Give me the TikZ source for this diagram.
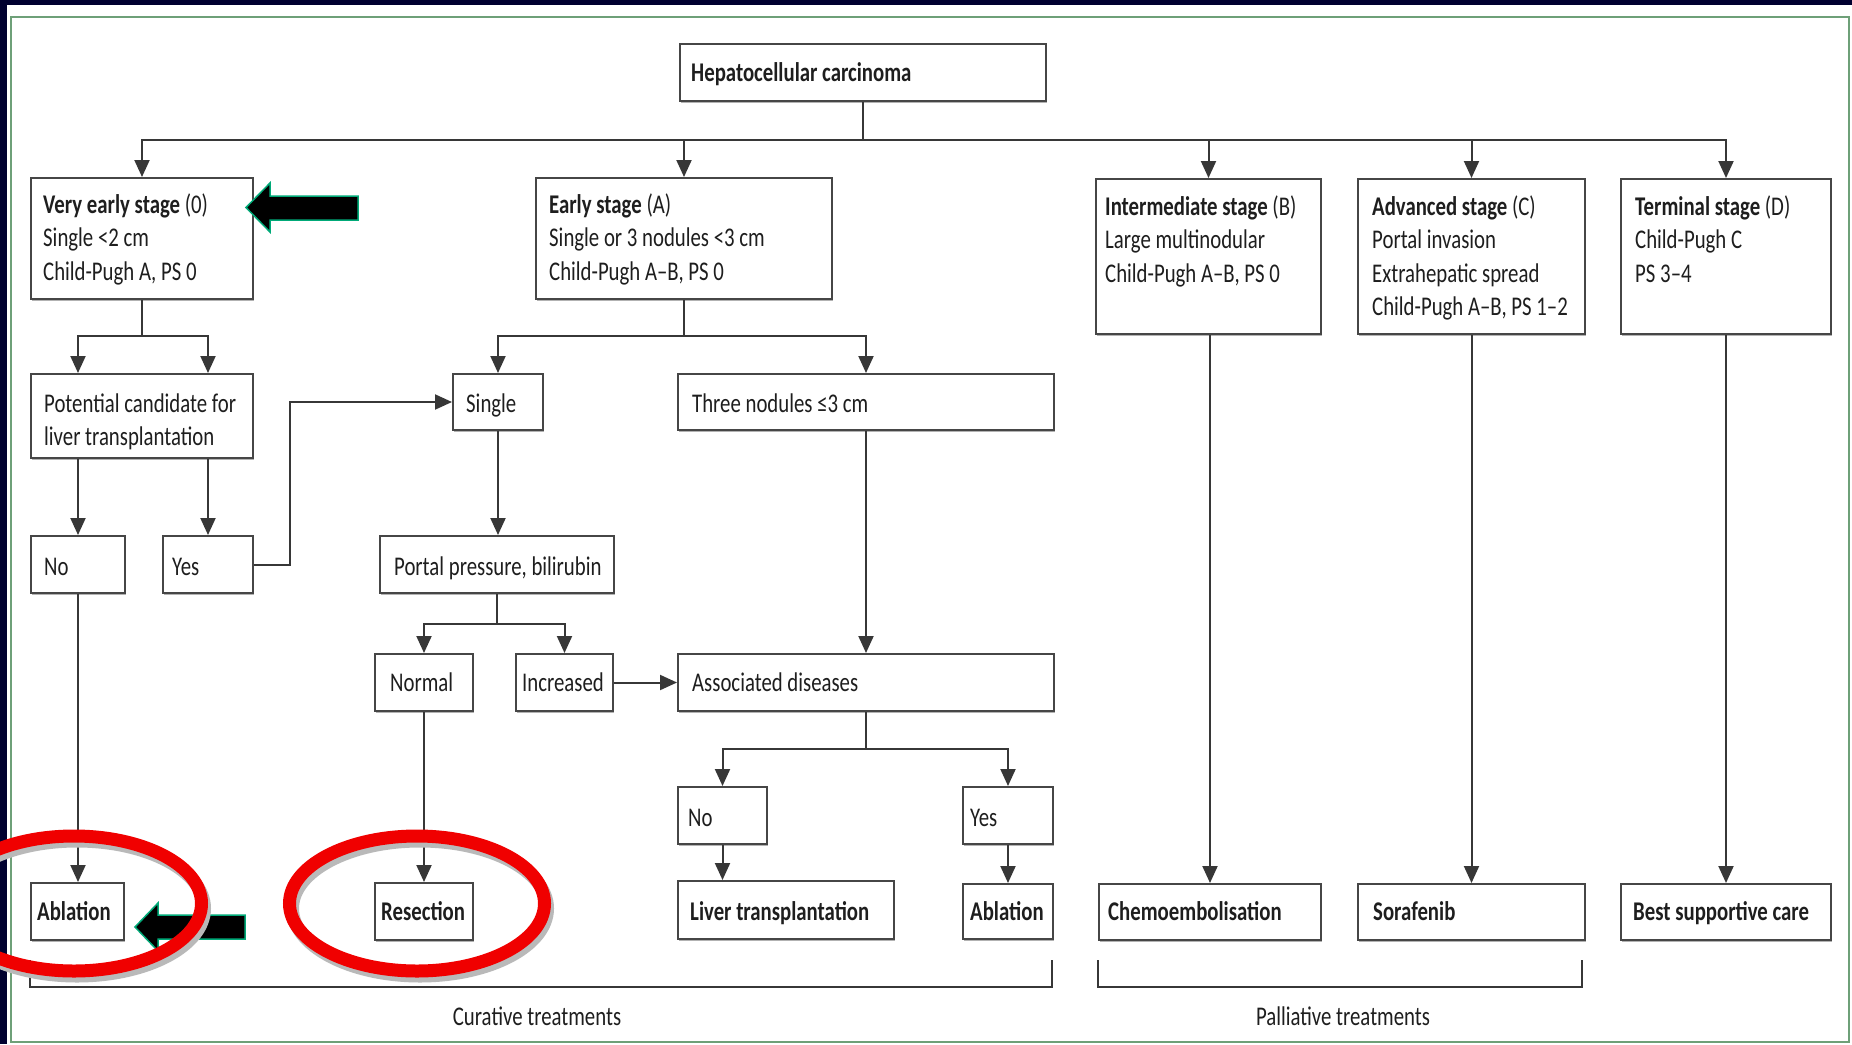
\documentclass[tikz,border=0pt]{standalone}
\usepackage{fontspec}
\setmainfont[FakeStretch=0.77]{Carlito}
\usetikzlibrary{arrows.meta,shadows,calc}
\definecolor{navy}{RGB}{0,0,48}
\definecolor{panelgreen}{RGB}{110,160,120}
\definecolor{boxc}{RGB}{70,70,70}
\definecolor{linec}{RGB}{55,55,55}
\definecolor{txtc}{RGB}{30,30,30}
\definecolor{ringred}{RGB}{240,0,0}
\definecolor{arrowgreen}{RGB}{0,170,120}
\tikzset{
  box/.style={draw=boxc, fill=white, line width=2pt, inner sep=0pt, anchor=north west, rectangle,
    drop shadow={shadow xshift=1pt, shadow yshift=-2pt, fill=black, opacity=0.3}},
  txt/.style={inner sep=0pt, anchor=north west, align=left, text=txtc, font=\fontsize{27}{33.5}\selectfont},
  conn/.style={draw=linec, line width=2pt},
  arr/.style={conn, -{Triangle[width=15pt,length=17pt]}},
  blockarrow/.style={fill=black, draw=arrowgreen, line width=1.5pt},
  ring/.style={draw=ringred, line width=13pt},
  ringshadow/.style={draw=gray!55, line width=13pt},
}
\newcommand\mybox[5]{\pgfmathsetmacro\mbw{#4-#2}\pgfmathsetmacro\mbh{#5-#3}%
  \node[box, minimum width=\mbw pt, minimum height=\mbh pt] (#1) at (#2,#3) {};}
\newcommand\mytext[4]{\node[txt] (#1) at (#2,{#3-24}) {\rule{0pt}{24pt}#4};}
\begin{document}
\begin{tikzpicture}[x=1pt,y=-1pt]
\clip (0,0) rectangle (1852,1044);
\fill[navy] (0,0) rectangle (1852,1044);
\fill[white] (7,5) rectangle (1852,1044);
\draw[panelgreen, line width=1.5pt] (11,17) rectangle (1849,1042);

% boxes
\mybox{hcc}{679}{43}{1045}{100}
\mybox{ve}{30}{177}{252}{298}
\mybox{early}{535}{177}{831}{298}
\mybox{inter}{1095}{178}{1320}{333}
\mybox{adv}{1357}{178}{1584}{333}
\mybox{term}{1620}{178}{1830}{333}
\mybox{pot}{30}{373}{252}{457}
\mybox{single}{452}{373}{542}{429}
\mybox{three}{677}{373}{1053}{429}
\mybox{no}{30}{535}{124}{592}
\mybox{yes}{162}{535}{252}{592}
\mybox{portal}{379}{535}{613}{592}
\mybox{normal}{374}{653}{472}{710}
\mybox{incr}{515}{653}{612}{710}
\mybox{assoc}{677}{653}{1053}{710}
\mybox{noB}{677}{786}{766}{843}
\mybox{yesB}{962}{786}{1052}{843}
\mybox{liver}{677}{880}{893}{938}
\mybox{ablB}{962}{883}{1052}{938}
\mybox{ablA}{30}{882}{123}{939}
\mybox{res}{374}{882}{472}{939}
\mybox{chemo}{1098}{883}{1320}{939}
\mybox{sora}{1357}{883}{1584}{939}
\mybox{bsc}{1620}{883}{1830}{939}

% texts
\mytext{hcc-t}{691}{81}{\textbf{Hepatocellular carcinoma}}
\mytext{ve-t}{43}{213}{\textbf{Very early stage} (0)\\Single <2 cm\\Child-Pugh A, PS 0}
\mytext{early-t}{549}{213}{\textbf{Early stage} (A)\\Single or 3 nodules <3 cm\\Child-Pugh A–B, PS 0}
\mytext{inter-t}{1105}{215}{\textbf{Intermediate stage} (B)\\Large multinodular\\Child-Pugh A–B, PS 0}
\mytext{adv-t}{1372}{215}{\textbf{Advanced stage} (C)\\Portal invasion\\Extrahepatic spread\\Child-Pugh A–B, PS 1–2}
\mytext{term-t}{1635}{215}{\textbf{Terminal stage} (D)\\Child-Pugh C\\PS 3–4}
\mytext{pot-t}{44}{412}{Potential candidate for\\liver transplantation}
\mytext{single-t}{466}{412}{Single}
\mytext{three-t}{692}{412}{Three nodules ≤3 cm}
\mytext{no-t}{44}{575}{No}
\mytext{yes-t}{172}{575}{Yes}
\mytext{portal-t}{394}{575}{Portal pressure, bilirubin}
\mytext{normal-t}{390}{691}{Normal}
\mytext{incr-t}{522}{691}{Increased}
\mytext{assoc-t}{692}{691}{Associated diseases}
\mytext{noB-t}{688}{826}{No}
\mytext{yesB-t}{970}{826}{Yes}
\mytext{liver-t}{690}{920}{\textbf{Liver transplantation}}
\mytext{ablB-t}{970}{920}{\textbf{Ablation}}
\mytext{ablA-t}{37}{920}{\textbf{Ablation}}
\mytext{res-t}{381}{920}{\textbf{Resection}}
\mytext{chemo-t}{1108}{920}{\textbf{Chemoembolisation}}
\mytext{sora-t}{1373}{920}{\textbf{Sorafenib}}
\mytext{bsc-t}{1633}{920}{\textbf{Best supportive care}}

% connectors
\draw[conn] (hcc.south) -- ++(0,38) coordinate (bus);
\foreach \n in {ve,early,inter,adv,term} \draw[arr] (bus) -| (\n.north);
\draw[conn] (ve.south) -- ++(0,36) coordinate (j1);
\draw[arr] (j1) -| (pot.north -| no.north);
\draw[arr] (j1) -| (pot.north -| yes.north);
\draw[arr] (pot.south -| no.north) -- (no.north);
\draw[arr] (pot.south -| yes.north) -- (yes.north);
\draw[arr] (yes.east) -- ++(36,0) |- (single.west);
\draw[conn] (early.south) -- ++(0,36) coordinate (j2);
\draw[arr] (j2) -| (single.north);
\draw[arr] (j2) -| (three.north);
\draw[arr] (single.south) -- (single.south |- portal.north);
\draw[conn] (portal.south) -- ++(0,30) coordinate (j3);
\draw[arr] (j3) -| (normal.north);
\draw[arr] (j3) -| (incr.north);
\draw[arr] (incr.east) -- (assoc.west);
\draw[arr] (three.south) -- (assoc.north);
\draw[conn] (assoc.south) -- ++(0,37) coordinate (j4);
\draw[arr] (j4) -| (noB.north);
\draw[arr] (j4) -| (yesB.north);
\draw[arr] (noB.south) -- (noB.south |- liver.north);
\draw[arr] (yesB.south) -- (ablB.north);
\draw[arr] (no.south) -- (no.south |- ablA.north);
\draw[arr] (normal.south) -- (res.north);
\draw[arr] (chemo.north |- inter.south) -- (chemo.north);
\draw[arr] (adv.south) -- (sora.north);
\draw[arr] (term.south) -- (bsc.north);

% brackets and labels
\draw[conn] (30,960) -- (30,987) -- (1052,987) -- (1052,960);
\draw[conn] (1098,960) -- (1098,987) -- (1582,987) -- (1582,960);
\node[txt, anchor=base] (cur) at (537,1025) {Curative treatments};
\node[txt, anchor=base] (pal) at (1343,1025) {Palliative treatments};

% highlight arrows and rings
\filldraw[blockarrow] (135,927) -- (158,903) -- (158,915) -- (245,915) -- (245,939) -- (158,939) -- (158,951) -- cycle;
\draw[ringshadow] (77,908.5) ellipse [x radius=127.5, y radius=67.5];
\draw[ring] (74,903.5) ellipse [x radius=127.5, y radius=67.5];
\draw[ringshadow] (420,908.5) ellipse [x radius=127.5, y radius=67.5];
\draw[ring] (417,903.5) ellipse [x radius=127.5, y radius=67.5];
\filldraw[blockarrow] (246,207.5) -- (270,183) -- (270,196) -- (358,196) -- (358,220) -- (270,220) -- (270,232) -- cycle;
\end{tikzpicture}
\end{document}
